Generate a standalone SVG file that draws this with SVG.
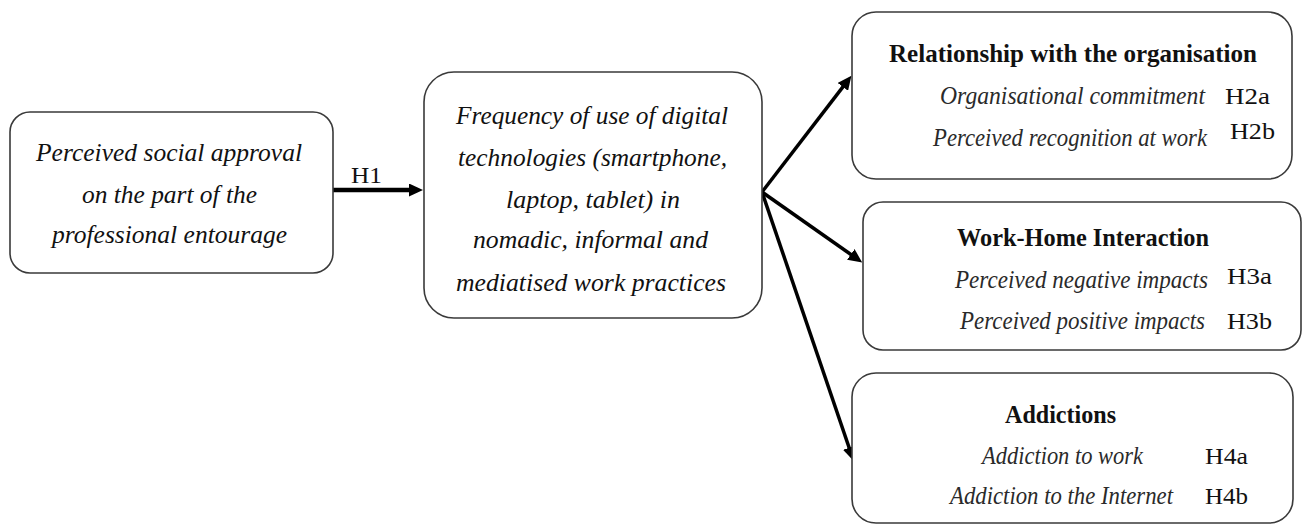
<svg xmlns="http://www.w3.org/2000/svg" width="1303" height="525" viewBox="0 0 1303 525">
<style>
.box{fill:#fff;stroke:#3a3a3a;stroke-width:1.6}
.t{font-family:"Liberation Serif","DejaVu Serif",serif;font-size:26px;fill:#111}
.it{font-style:italic}
.sub{font-family:"Liberation Serif","DejaVu Serif",serif;font-size:25px;font-style:italic;fill:#2a2a2a}
.b{font-weight:bold}
.h{font-family:"Liberation Serif","DejaVu Serif",serif;font-size:24px;fill:#111}
.arr{stroke:#000;stroke-width:3.5;fill:none;marker-end:url(#ah)}
.arr1{stroke:#000;stroke-width:4.5;fill:none;marker-end:url(#ah)}
</style>
<defs>
<marker id="ah" viewBox="0 0 14 13" refX="1" refY="6.5" markerWidth="14" markerHeight="13" markerUnits="userSpaceOnUse" orient="auto">
<path d="M0,0 L14,6.5 L0,13 z" fill="#000"/>
</marker>
</defs>
<rect width="1303" height="525" fill="#fff"/>
<g id="connectors">
<line class="arr1" x1="333" y1="190" x2="410" y2="190"/>
<text class="h" x="351" y="183" textLength="31" lengthAdjust="spacingAndGlyphs">H1</text>
<line class="arr" x1="762" y1="192" x2="843.5" y2="86.1"/>
<line class="arr" x1="762" y1="192" x2="851.6" y2="255"/>
<line class="arr" x1="762" y1="192" x2="849.5" y2="448.7"/>
</g>
<g id="node-approval">
<rect class="box" x="10" y="112" width="323" height="161" rx="20"/>
<text class="t it" x="36" y="161" textLength="266" lengthAdjust="spacingAndGlyphs">Perceived social approval</text>
<text class="t it" x="82" y="203" textLength="175" lengthAdjust="spacingAndGlyphs">on the part of the</text>
<text class="t it" x="52" y="243" textLength="235" lengthAdjust="spacingAndGlyphs">professional entourage</text>
</g>
<g id="node-frequency">
<rect class="box" x="424" y="72" width="338" height="246" rx="30"/>
<text class="t it" x="456" y="124" textLength="272" lengthAdjust="spacingAndGlyphs">Frequency of use of digital</text>
<text class="t it" x="458" y="166" textLength="269" lengthAdjust="spacingAndGlyphs">technologies (smartphone,</text>
<text class="t it" x="506" y="208" textLength="174" lengthAdjust="spacingAndGlyphs">laptop, tablet) in</text>
<text class="t it" x="473" y="248" textLength="235" lengthAdjust="spacingAndGlyphs">nomadic, informal and</text>
<text class="t it" x="456" y="291" textLength="270" lengthAdjust="spacingAndGlyphs">mediatised work practices</text>
</g>
<g id="node-organisation">
<rect class="box" x="852" y="12" width="440" height="167" rx="24"/>
<text class="t b" x="889" y="62" textLength="368" lengthAdjust="spacingAndGlyphs">Relationship with the organisation</text>
<text class="sub" x="940" y="104" textLength="265" lengthAdjust="spacingAndGlyphs">Organisational commitment</text>
<text class="h" x="1225" y="104" textLength="45" lengthAdjust="spacingAndGlyphs">H2a</text>
<text class="sub" x="933" y="146" font-size="22.5" textLength="274" lengthAdjust="spacingAndGlyphs">Perceived recognition at work</text>
<text class="h" x="1230" y="139" textLength="45" lengthAdjust="spacingAndGlyphs">H2b</text>
</g>
<g id="node-workhome">
<rect class="box" x="863" y="202" width="438" height="148" rx="20"/>
<text class="t b" x="957" y="246" textLength="252" lengthAdjust="spacingAndGlyphs">Work-Home Interaction</text>
<text class="sub" x="955" y="288" textLength="253" lengthAdjust="spacingAndGlyphs">Perceived negative impacts</text>
<text class="h" x="1227" y="284" textLength="45" lengthAdjust="spacingAndGlyphs">H3a</text>
<text class="sub" x="960" y="329" textLength="245" lengthAdjust="spacingAndGlyphs">Perceived positive impacts</text>
<text class="h" x="1227" y="329" textLength="45" lengthAdjust="spacingAndGlyphs">H3b</text>
</g>
<g id="node-addictions">
<rect class="box" x="852" y="373" width="441" height="150" rx="24"/>
<text class="t b" x="1005" y="423" textLength="111" lengthAdjust="spacingAndGlyphs">Addictions</text>
<text class="sub" x="982" y="464" textLength="161" lengthAdjust="spacingAndGlyphs">Addiction to work</text>
<text class="h" x="1205" y="464" textLength="43" lengthAdjust="spacingAndGlyphs">H4a</text>
<text class="sub" x="950" y="504" textLength="223" lengthAdjust="spacingAndGlyphs">Addiction to the Internet</text>
<text class="h" x="1205" y="504" textLength="43" lengthAdjust="spacingAndGlyphs">H4b</text>
</g>
</svg>
